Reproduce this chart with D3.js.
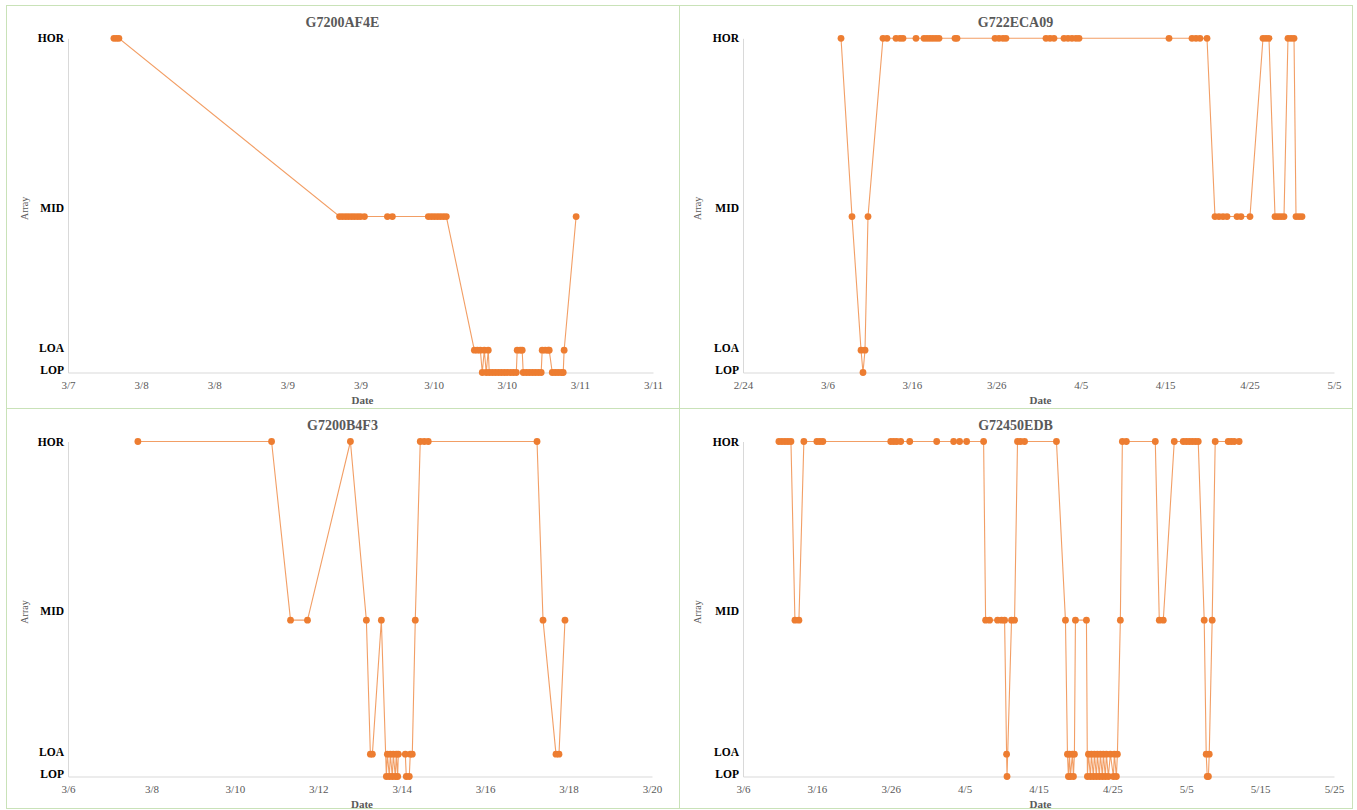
<!DOCTYPE html>
<html>
<head>
<meta charset="utf-8">
<script src="https://cdn.jsdelivr.net/npm/d3@7"></script>
<style>
  body { margin: 0; background: #ffffff; }
  svg { display: block; }
  text { font-family: "Liberation Serif", "Times New Roman", serif; }
</style>
</head>
<body>
<svg id="chart" width="1357" height="810"></svg>
<script>
// Array states, their numeric positions on the value axis, and where each axis label sits
const levels = ["LOP", "LOA", "MID", "HOR"];
const levelValues = [0, 1, 7, 15];
const levelLabelPositions = [0.13, 1.1, 7.4, 15];

const titles = ["G7200AF4E", "G722ECA09", "G7200B4F3", "G72450EDB"];

// Date-axis tick labels
const xTickLabels1 = ["3/7", "3/8", "3/8", "3/9", "3/9", "3/10", "3/10", "3/11", "3/11"];
const xTickLabels2 = ["2/24", "3/6", "3/16", "3/26", "4/5", "4/15", "4/25", "5/5"];
const xTickLabels3 = ["3/6", "3/8", "3/10", "3/12", "3/14", "3/16", "3/18", "3/20"];
const xTickLabels4 = ["3/6", "3/16", "3/26", "4/5", "4/15", "4/25", "5/5", "5/15", "5/25"];

// Observations: [month-day time, array state]
const series1 = [
  ["03-07 19:32","HOR"],["03-07 19:57","HOR"],["03-07 20:21","HOR"],
  ["03-09 08:34","MID"],["03-09 09:03","MID"],["03-09 09:33","MID"],["03-09 10:02","MID"],["03-09 10:32","MID"],
  ["03-09 11:01","MID"],["03-09 11:31","MID"],["03-09 12:00","MID"],["03-09 12:39","MID"],["03-09 16:25","MID"],
  ["03-09 17:14","MID"],["03-09 23:08","MID"],["03-09 23:38","MID"],["03-10 00:07","MID"],["03-10 00:37","MID"],
  ["03-10 01:06","MID"],["03-10 01:36","MID"],["03-10 02:05","MID"],
  ["03-10 06:41","LOA"],["03-10 07:10","LOA"],["03-10 07:40","LOA"],["03-10 07:59","LOP"],["03-10 08:19","LOA"],
  ["03-10 08:38","LOP"],["03-10 08:58","LOA"],["03-10 09:08","LOP"],["03-10 09:38","LOP"],["03-10 10:07","LOP"],
  ["03-10 10:37","LOP"],["03-10 11:06","LOP"],["03-10 11:36","LOP"],["03-10 12:05","LOP"],["03-10 12:35","LOP"],
  ["03-10 13:04","LOP"],["03-10 13:34","LOP"],["03-10 13:43","LOA"],["03-10 14:13","LOA"],["03-10 14:32","LOA"],
  ["03-10 14:42","LOP"],["03-10 15:12","LOP"],["03-10 15:41","LOP"],["03-10 16:11","LOP"],["03-10 16:40","LOP"],
  ["03-10 17:10","LOP"],["03-10 17:39","LOP"],["03-10 17:49","LOA"],["03-10 18:19","LOA"],["03-10 18:48","LOA"],
  ["03-10 18:58","LOA"],["03-10 19:28","LOP"],["03-10 19:57","LOP"],["03-10 20:26","LOP"],["03-10 20:56","LOP"],
  ["03-10 21:16","LOP"],["03-10 21:25","LOA"],["03-10 23:23","MID"]
];

const series2 = [
  ["03-07 14:37","HOR"],["03-08 21:50","MID"],["03-09 23:32","LOA"],["03-10 05:06","LOP"],["03-10 10:48","LOA"],
  ["03-10 19:20","MID"],["03-12 13:54","HOR"],["03-13 01:21","HOR"],["03-14 02:55","HOR"],["03-14 14:20","HOR"],
  ["03-14 22:48","HOR"],["03-16 11:46","HOR"],["03-17 10:30","HOR"],["03-17 19:00","HOR"],["03-18 03:30","HOR"],
  ["03-18 12:00","HOR"],["03-18 20:40","HOR"],["03-19 05:10","HOR"],["03-21 02:40","HOR"],["03-21 08:20","HOR"],
  ["03-25 20:24","HOR"],["03-26 07:41","HOR"],["03-26 19:00","HOR"],["03-27 03:30","HOR"],["03-31 21:20","HOR"],
  ["04-01 08:40","HOR"],["04-01 20:00","HOR"],["04-03 00:30","HOR"],["04-03 11:50","HOR"],["04-03 23:10","HOR"],
  ["04-04 10:30","HOR"],["04-04 19:10","HOR"],["04-15 11:00","HOR"],["04-18 04:20","HOR"],["04-18 15:40","HOR"],
  ["04-19 03:00","HOR"],["04-19 23:00","HOR"],["04-20 21:40","MID"],["04-21 09:00","MID"],["04-21 20:30","MID"],
  ["04-22 07:50","MID"],["04-23 12:20","MID"],["04-23 23:40","MID"],["04-25 01:10","MID"],["04-26 14:10","HOR"],
  ["04-26 22:40","HOR"],["04-27 07:10","HOR"],["04-28 00:20","MID"],["04-28 08:50","MID"],["04-28 17:20","MID"],
  ["04-29 01:50","MID"],["04-29 13:10","HOR"],["04-29 21:50","HOR"],["04-30 06:20","HOR"],["04-30 12:00","MID"],
  ["04-30 20:30","MID"],["05-01 05:00","MID"]
];

const series3 = [
  ["03-07 16:12","HOR"],["03-10 21:07","HOR"],["03-11 08:02","MID"],["03-11 17:47","MID"],["03-12 18:29","HOR"],
  ["03-13 03:40","MID"],["03-13 05:58","LOA"],["03-13 07:07","LOA"],["03-13 12:17","MID"],["03-13 15:10","LOP"],
  ["03-13 15:44","LOA"],["03-13 16:53","LOP"],["03-13 17:27","LOA"],["03-13 18:36","LOP"],["03-13 19:10","LOA"],
  ["03-13 20:19","LOP"],["03-13 20:53","LOA"],["03-13 21:40","LOP"],["03-13 22:02","LOA"],["03-14 02:04","LOA"],
  ["03-14 02:38","LOP"],["03-14 04:21","LOP"],["03-14 04:56","LOA"],["03-14 06:05","LOA"],["03-14 07:48","MID"],
  ["03-14 10:40","HOR"],["03-14 12:58","HOR"],["03-14 15:16","HOR"],["03-17 05:51","HOR"],["03-17 09:18","MID"],
  ["03-17 16:46","LOA"],["03-17 18:29","LOA"],["03-17 21:56","MID"]
];

const series4 = [
  ["03-10 20:40","HOR"],["03-11 06:30","HOR"],["03-11 16:20","HOR"],["03-12 02:00","HOR"],["03-12 11:45","HOR"],
  ["03-13 00:45","MID"],["03-13 13:40","MID"],["03-14 05:45","HOR"],["03-16 00:00","HOR"],["03-16 09:50","HOR"],
  ["03-16 19:25","HOR"],["03-26 00:00","HOR"],["03-26 09:50","HOR"],["03-26 19:25","HOR"],["03-27 08:25","HOR"],
  ["03-28 13:40","HOR"],["04-01 05:15","HOR"],["04-03 12:15","HOR"],["04-04 07:40","HOR"],["04-05 06:30","HOR"],
  ["04-07 13:40","HOR"],["04-07 20:10","MID"],["04-08 09:05","MID"],["04-09 11:00","MID"],["04-10 00:00","MID"],
  ["04-10 09:50","MID"],["04-10 16:20","LOA"],["04-10 17:45","LOP"],["04-11 08:25","MID"],["04-11 18:15","MID"],
  ["04-12 03:50","HOR"],["04-12 13:40","HOR"],["04-13 02:40","HOR"],["04-17 10:20","HOR"],["04-18 15:35","MID"],
  ["04-18 22:05","LOA"],["04-19 01:10","LOP"],["04-19 04:35","LOA"],["04-19 07:40","LOP"],["04-19 14:10","LOA"],
  ["04-19 17:30","LOP"],["04-19 20:40","LOA"],["04-20 00:00","MID"],["04-21 11:45","MID"],["04-21 14:55","LOP"],
  ["04-21 18:15","LOA"],["04-22 00:45","LOP"],["04-22 03:50","LOA"],["04-22 10:20","LOP"],["04-22 13:40","LOA"],
  ["04-22 20:10","LOP"],["04-22 23:15","LOA"],["04-23 05:45","LOP"],["04-23 09:05","LOA"],["04-23 15:35","LOP"],
  ["04-23 18:45","LOA"],["04-24 01:10","LOP"],["04-24 04:35","LOA"],["04-24 11:00","LOP"],["04-24 17:30","LOA"],
  ["04-25 03:20","LOP"],["04-25 06:30","LOA"],["04-25 13:00","LOP"],["04-25 16:20","LOA"],["04-26 01:55","MID"],
  ["04-26 08:25","HOR"],["04-26 21:25","HOR"],["04-30 19:25","HOR"],["05-01 08:25","MID"],["05-01 21:25","MID"],
  ["05-03 09:05","HOR"],["05-04 14:10","HOR"],["05-05 00:00","HOR"],["05-05 09:50","HOR"],["05-05 19:25","HOR"],
  ["05-06 05:15","HOR"],["05-06 14:55","HOR"],["05-07 10:20","MID"],["05-07 16:50","LOA"],["05-07 20:10","LOP"],
  ["05-08 00:00","LOP"],["05-08 02:40","LOA"],["05-08 12:15","MID"],["05-08 22:05","HOR"],["05-10 16:20","HOR"],
  ["05-11 01:55","HOR"],["05-11 11:45","HOR"],["05-12 03:50","HOR"]
];

const parseTime = d3.timeParse("%Y-%m-%d %H:%M");
const toDate = s => parseTime("2021-" + s);

// Panel layout: frame box, plot box, first tick and tick step
const panels = [
  { title: titles[0], data: series1, labels: xTickLabels1, start: "03-07 12:00", stepHours: 12,
    frame: [6, 5, 673, 403], plot: { left: 68, right: 653, top: 38.3, bottom: 372.5 } },
  { title: titles[1], data: series2, labels: xTickLabels2, start: "02-24 00:00", stepHours: 240,
    frame: [679, 5, 673, 403], plot: { left: 743, right: 1334, top: 38.3, bottom: 372.5 } },
  { title: titles[2], data: series3, labels: xTickLabels3, start: "03-06 00:00", stepHours: 48,
    frame: [6, 408, 673, 400], plot: { left: 68, right: 652, top: 441.5, bottom: 776.5 } },
  { title: titles[3], data: series4, labels: xTickLabels4, start: "03-06 00:00", stepHours: 240,
    frame: [679, 408, 673, 400], plot: { left: 743, right: 1334, top: 441.5, bottom: 776.5 } }
];

const svg = d3.select("#chart");
const lineColor = "#ED7D31";
const frameColor = "#c9e2b8";
const gridColor = "#d9d9d9";
const textGray = "#595959";

const valueOf = lvl => levelValues[levels.indexOf(lvl)];

panels.forEach(p => {
  const g = svg.append("g");
  const [fx, fy, fw, fh] = p.frame;

  g.append("rect")
    .attr("x", fx + 0.5).attr("y", fy + 0.5)
    .attr("width", fw).attr("height", fh)
    .attr("fill", "#ffffff").attr("stroke", frameColor).attr("stroke-width", 1);

  const start = toDate(p.start);
  const tickDates = p.labels.map((_, i) => d3.timeHour.offset(start, i * p.stepHours));
  const x = d3.scaleTime()
    .domain([tickDates[0], tickDates[tickDates.length - 1]])
    .range([p.plot.left, p.plot.right]);
  const y = d3.scaleLinear()
    .domain([d3.min(levelValues), d3.max(levelValues)])
    .range([p.plot.bottom, p.plot.top]);

  // Title
  g.append("text")
    .attr("x", fx + fw / 2).attr("y", fy + 22)
    .attr("text-anchor", "middle")
    .attr("font-size", 14).attr("font-weight", "bold")
    .attr("fill", textGray)
    .text(p.title);

  // Date axis along the LOP level
  const xAxis = g.append("g")
    .attr("transform", `translate(0,${p.plot.bottom})`)
    .call(d3.axisBottom(x).tickValues(tickDates)
      .tickFormat((d, i) => p.labels[i]).tickSize(0).tickSizeOuter(0).tickPadding(9));
  xAxis.select(".domain").attr("stroke", gridColor).attr("stroke-width", 1);
  xAxis.selectAll("text")
    .attr("font-family", "Liberation Serif, serif")
    .attr("font-size", 11).attr("fill", textGray);

  // State axis
  const yAxis = g.append("g")
    .attr("transform", `translate(${p.plot.left},0)`)
    .call(d3.axisLeft(y).tickValues(levelLabelPositions)
      .tickFormat((d, i) => levels[i]).tickSize(0).tickSizeOuter(0).tickPadding(4));
  yAxis.select(".domain").attr("stroke", gridColor).attr("stroke-width", 1);
  yAxis.selectAll("text")
    .attr("font-family", "Liberation Serif, serif")
    .attr("font-size", 11.5).attr("font-weight", "bold").attr("fill", "#000000");

  // Axis titles
  g.append("text")
    .attr("x", (p.plot.left + p.plot.right) / 2 + 2)
    .attr("y", p.plot.bottom + 31)
    .attr("text-anchor", "middle")
    .attr("font-size", 11).attr("font-weight", "bold").attr("fill", textGray)
    .text("Date");
  g.append("text")
    .attr("transform", `translate(${fx + 22},${(p.plot.top + p.plot.bottom) / 2 + 3}) rotate(-90)`)
    .attr("text-anchor", "middle")
    .attr("font-size", 10).attr("fill", textGray)
    .text("Array");

  const pts = p.data.map(([t, lvl]) => ({ t: toDate(t), v: valueOf(lvl) }));

  const line = d3.line().x(d => x(d.t)).y(d => y(d.v));
  g.append("path")
    .datum(pts)
    .attr("d", line)
    .attr("fill", "none")
    .attr("stroke", lineColor)
    .attr("stroke-opacity", 0.75)
    .attr("stroke-width", 1.1);

  g.selectAll("circle.pt")
    .data(pts)
    .join("circle")
    .attr("class", "pt")
    .attr("cx", d => x(d.t))
    .attr("cy", d => y(d.v))
    .attr("r", 3.4)
    .attr("fill", lineColor);
});
</script>
</body>
</html>
